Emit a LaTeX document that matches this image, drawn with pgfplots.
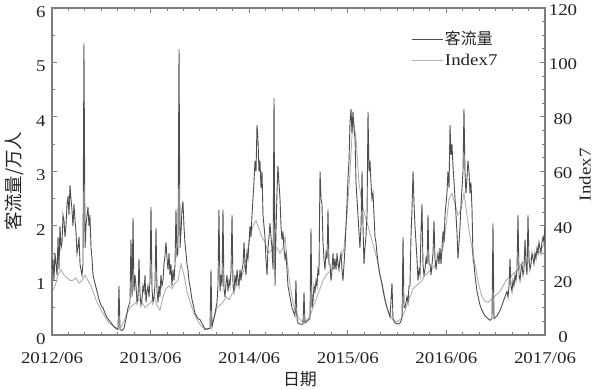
\documentclass[border=0pt]{standalone}
\usepackage{pgfplots}
\pgfplotsset{compat=1.18}
\usepackage{pgfplotstable}
\usepackage{fontspec}
\setmainfont{Liberation Serif}[FakeStretch=1.15]
\newfontfamily\cjk{Noto Sans CJK SC}
\definecolor{darkser}{RGB}{78,78,78}
\definecolor{lightser}{RGB}{175,175,175}
\definecolor{framec}{RGB}{125,125,125}
\definecolor{textc}{RGB}{35,35,35}

\pgfplotstableread{
m v
0.00 1.2
0.12 1.4
0.24 1.0
0.36 1.5
0.49 1.3
0.61 1.1
0.73 1.8
0.85 1.2
0.97 2.0
1.10 1.6
1.22 1.7
1.34 2.2
1.46 2.1
1.58 1.8
1.70 2.0
1.83 2.4
1.95 2.55
2.07 2.2
2.19 2.75
2.31 2.5
2.43 2.3
2.55 2.0
2.68 2.4
2.80 2.1
2.92 1.9
3.04 1.5
3.16 1.6
3.29 1.8
3.41 1.3
3.65 1.1
3.77 1.3
3.89 5.35
4.02 1.6
4.14 2.0
4.26 2.2
4.38 2.35
4.50 2.0
4.62 2.2
4.75 1.6
4.87 1.4
4.99 1.1
5.23 0.95
5.48 0.8
5.72 0.65
5.96 0.55
6.21 0.5
6.45 0.4
6.69 0.32
7.06 0.25
7.30 0.2
7.55 0.15
7.79 0.12
8.03 0.1
8.15 0.9
8.28 0.1
8.52 0.08
8.76 0.12
9.01 0.3
9.25 0.5
9.49 0.6
9.61 1.75
9.74 0.7
9.86 2.15
9.98 0.8
10.10 1.1
10.22 0.9
10.35 0.6
10.47 0.7
10.59 1.4
10.71 0.75
10.83 0.55
10.95 0.65
11.07 0.9
11.20 0.8
11.32 1.1
11.44 0.6
11.56 0.8
11.68 0.9
11.81 0.7
11.93 1.0
12.05 2.35
12.17 0.85
12.29 0.6
12.41 0.7
12.53 0.9
12.66 1.96
12.78 0.8
12.90 0.6
13.02 0.9
13.14 0.7
13.26 1.1
13.39 0.9
13.51 1.0
13.63 1.3
13.75 1.45
13.87 1.7
14.00 1.4
14.12 1.2
14.24 1.5
14.36 1.1
14.48 1.3
14.60 0.9
14.73 1.2
14.85 1.0
14.97 1.3
15.09 2.3
15.21 1.45
15.33 1.5
15.46 5.25
15.58 1.6
15.70 1.9
15.82 2.3
15.94 2.45
16.06 2.0
16.18 1.7
16.31 1.5
16.43 1.3
16.55 1.2
16.67 1.0
16.79 0.9
17.04 0.65
17.40 0.4
17.77 0.3
18.01 0.28
18.38 0.18
18.62 0.1
18.99 0.12
19.23 0.12
19.35 1.2
19.47 0.15
19.84 0.4
20.08 0.6
20.20 0.9
20.32 2.3
20.45 0.8
20.57 1.1
20.69 0.9
20.81 2.3
20.93 0.85
21.05 0.7
21.18 0.95
21.30 1.1
21.42 0.8
21.54 1.0
21.66 0.9
21.79 1.2
21.91 2.2
22.03 0.9
22.15 0.8
22.27 1.1
22.40 0.9
22.52 1.2
22.64 1.0
22.76 0.9
22.88 1.2
23.00 1.0
23.12 1.2
23.25 1.3
23.37 1.7
23.49 1.3
23.61 1.1
23.73 1.5
23.85 1.4
23.98 1.7
24.10 2.0
24.22 1.8
24.34 2.2
24.46 2.5
24.58 2.8
24.71 3.2
24.83 3.0
24.95 3.85
25.07 3.6
25.19 3.0
25.31 3.2
25.44 2.7
25.56 3.0
25.68 2.2
25.80 2.0
25.92 1.8
26.04 1.4
26.17 1.1
26.29 1.6
26.41 1.8
26.53 2.05
26.65 1.8
26.77 1.6
26.90 1.2
27.02 4.35
27.14 0.9
27.26 1.9
27.38 2.6
27.50 3.1
27.62 2.8
27.75 2.5
27.87 2.0
27.99 1.75
28.11 1.9
28.23 1.6
28.36 1.4
28.48 1.5
28.60 1.2
28.72 0.9
28.84 0.8
28.96 0.7
29.21 0.5
29.57 0.35
29.69 1.0
29.82 0.3
29.94 0.22
30.18 0.2
30.55 0.2
30.67 0.78
30.79 0.22
31.16 0.27
31.40 0.3
31.52 1.95
31.64 0.5
31.76 0.6
31.89 0.9
32.01 0.8
32.13 1.0
32.25 0.9
32.37 1.2
32.49 1.1
32.62 3.0
32.74 2.5
32.86 2.4
32.98 1.7
33.10 1.4
33.22 1.2
33.35 1.5
33.47 1.4
33.59 2.3
33.71 1.3
33.83 1.3
33.96 1.0
34.08 1.2
34.20 1.5
34.32 1.2
34.44 1.4
34.57 1.2
34.69 1.5
34.81 1.3
34.93 1.2
35.05 1.4
35.17 1.5
35.29 1.2
35.41 1.0
35.54 1.3
35.66 1.6
35.78 2.0
35.90 2.4
36.03 2.9
36.15 3.2
36.27 3.9
36.39 4.15
36.51 3.7
36.63 4.1
36.75 3.8
36.88 3.6
37.00 2.8
37.12 2.5
37.24 2.2
37.36 1.9
37.48 1.6
37.61 2.0
37.73 3.0
37.85 2.0
37.97 1.3
38.09 1.6
38.21 1.8
38.34 2.2
38.46 4.1
38.58 3.0
38.70 3.2
38.82 2.8
38.94 2.5
39.07 2.6
39.19 2.2
39.31 1.8
39.43 1.7
39.55 1.5
39.67 1.35
39.80 1.2
39.92 1.1
40.16 0.95
40.40 0.75
40.53 0.65
40.77 0.5
41.14 0.33
41.38 0.95
41.50 0.3
41.74 0.22
42.11 0.2
42.35 0.22
42.60 0.3
42.72 1.8
42.84 0.5
42.96 0.5
43.20 0.7
43.33 0.6
43.45 0.9
43.57 0.9
43.69 1.8
43.81 2.3
43.94 3.0
44.06 2.4
44.18 2.0
44.30 1.7
44.42 1.4
44.54 1.0
44.67 1.2
44.79 1.1
44.91 1.9
45.03 2.4
45.15 1.3
45.27 1.1
45.39 1.2
45.52 1.4
45.64 1.3
45.76 2.2
45.88 1.3
46.00 1.3
46.13 1.1
46.25 1.3
46.37 1.5
46.49 2.1
46.61 1.4
46.74 1.2
46.86 1.4
46.98 1.5
47.10 1.3
47.22 1.6
47.34 1.3
47.47 1.6
47.59 1.9
47.71 1.7
47.83 2.2
47.95 2.4
48.07 2.6
48.19 3.0
48.32 2.7
48.44 3.85
48.56 3.3
48.68 3.5
48.80 3.1
48.93 2.8
49.05 2.5
49.17 2.2
49.29 1.87
49.41 1.4
49.54 1.7
49.66 2.0
49.78 2.4
49.90 2.7
50.02 3.0
50.14 4.15
50.26 3.0
50.38 2.6
50.51 2.9
50.63 3.2
50.75 3.0
50.87 2.6
50.99 2.8
51.12 2.3
51.24 1.4
51.36 1.3
51.48 1.1
51.72 0.8
52.09 0.55
52.33 0.45
52.70 0.35
53.06 0.3
53.31 0.27
53.55 0.3
53.67 2.05
53.79 0.3
54.16 0.35
54.52 0.45
54.77 0.55
55.13 0.7
55.37 0.8
55.50 0.7
55.62 0.9
55.74 1.4
55.86 0.9
55.98 0.8
56.10 1.0
56.22 0.9
56.35 1.1
56.47 1.0
56.59 1.2
56.71 2.2
56.84 1.1
56.96 1.0
57.08 1.2
57.20 1.3
57.32 1.1
57.44 1.2
57.57 1.75
57.69 1.3
57.81 1.1
57.93 2.2
58.05 1.4
58.17 1.2
58.30 1.3
58.42 1.5
58.54 1.4
58.66 1.3
58.78 1.5
58.90 1.4
59.03 1.6
59.15 1.5
59.27 1.7
59.39 1.6
59.51 1.5
59.63 1.7
59.76 1.8
59.88 1.7
60.00 2.0
}\flow

\pgfplotstableread{
m v
0.00 16
0.37 18
0.73 22
1.10 24
1.46 22
1.83 21
2.19 20
2.56 20
2.92 21
3.29 19
3.65 20
4.02 22
4.38 20
4.75 18
5.11 15
5.48 12
5.84 10
6.21 8
6.57 6
6.94 4.4
7.30 3.6
7.67 3
8.03 2.4
8.40 3
8.76 5
9.13 8
9.49 10
9.86 11
10.22 12
10.59 13
10.95 12
11.32 10
11.68 11
12.05 12
12.41 14
12.78 11
13.14 9
13.51 14
13.87 17
14.24 18
14.60 17
14.97 19
15.33 20
15.70 26
16.06 22
16.43 16
16.80 12
17.16 9
17.53 6.4
17.89 4.4
18.26 3
18.62 2.4
18.99 2
19.35 3
19.72 6
20.08 10
20.45 11
20.81 12
21.18 14
21.54 13
21.91 15
22.27 17
22.64 19
23.00 21
23.37 24
23.73 30
24.10 36
24.46 40
24.83 42
25.19 39
25.56 36
25.92 34
26.29 30
26.65 31
27.02 32
27.38 32
27.75 30
28.11 32
28.36 36
28.60 28
28.97 18
29.33 12
29.70 8
30.06 6
30.43 5
30.79 5
31.16 6
31.52 8
31.89 11
32.25 14
32.62 17
32.98 20
33.35 22
33.71 23
34.08 24
34.44 25
34.81 26
35.17 27
35.54 32
35.90 44
36.27 60
36.63 80
37.00 72
37.36 56
37.73 48
38.09 44
38.46 40
38.82 36
39.19 32
39.55 28
39.92 22
40.28 16
40.65 11
41.01 8
41.38 6
41.74 5
42.11 5
42.47 6
42.84 8
43.20 11
43.57 14
43.94 17
44.30 18
44.67 19
45.03 20
45.40 22
45.76 23
46.13 24
46.49 25
46.86 27
47.22 28
47.59 32
47.95 40
48.32 50
48.68 52
49.05 48
49.41 44
49.78 46
50.14 52
50.51 44
50.87 36
51.24 30
51.60 24
51.97 18
52.33 14
52.70 12.4
53.06 12
53.43 13
53.79 14
54.16 15
54.52 16
54.89 18
55.25 20
55.62 21
55.98 22
56.35 23
56.71 24
57.08 26
57.44 27
57.81 26
58.17 28
58.54 29
58.90 30
59.27 30
59.63 32
60.00 34
}\indexseven

\pgfplotsset{
  common/.style={
    scale only axis, width=493bp, height=327bp,
    xmin=0, xmax=60,
    tick align=inside,
    major tick length=5bp, minor tick length=3bp,
    every tick/.style={color=framec, line width=1bp},
    axis line style={framec, line width=1.2bp},
    /pgf/number format/assume math mode=true,
    tick label style={font=\fontsize{16.5}{18}\selectfont, color=textc},
    label style={color=textc},
  }
}

\begin{document}
\begin{tikzpicture}
\path[use as bounding box] (-52bp,-55bp) rectangle (542bp,335bp);
% Index7 on the right scale
\begin{axis}[common,
  hide x axis,
  axis y line*=right,
  ymin=0, ymax=120,
  ytick={0,20,...,120},
  minor y tick num=3,
  yticklabel style={anchor=center, xshift=18bp, yshift=-2bp},
  ylabel={Index7},
  ylabel style={at={(axis description cs:1.081,0.49)}, anchor=center,
    font=\fontsize{16.5}{18}\selectfont},
]
\addplot[lightser, line width=0.9bp] table[x=m, y=v] {\indexseven};
\end{axis}
% passenger flow on the left scale
\begin{axis}[common,
  ymin=0, ymax=6,
  ytick={0,1,...,6},
  minor y tick num=1,
  ytick pos=left,
  xtick pos=both,
  xtick={0,12,24,36,48,60},
  xticklabels={2012/06,2013/06,2014/06,2015/06,2016/06,2017/06},
  minor x tick num=5,
  xticklabel style={yshift=-14bp},
  yticklabel style={xshift=-3bp, yshift=-4bp},
  xlabel={\cjk 日期},
  xlabel style={at={(axis description cs:0.503,-0.135)}, anchor=center,
    font=\fontsize{17}{18}\selectfont},
  ylabel={\cjk 客流量/万人},
  ylabel style={at={(axis description cs:-0.077,0.47)}, anchor=center,
    font=\fontsize{18.5}{20}\selectfont},
  legend cell align=left,
  legend style={draw=none, fill=none, at={(axis description cs:0.728,0.935)},
    anchor=north west, font=\fontsize{16.5}{18}\selectfont, text=textc,
    row sep=4bp, inner sep=0pt},
  legend image code/.code={\draw[#1] (0bp,0bp) -- (31bp,0bp);},
]
\addplot[darkser, line width=0.9bp] table[x=m, y=v] {\flow};
\addlegendentry{\cjk\fontsize{16}{18}\selectfont 客流量}
\addlegendimage{lightser, line width=0.9bp}
\addlegendentry{Index7}
\end{axis}
\end{tikzpicture}
\end{document}
